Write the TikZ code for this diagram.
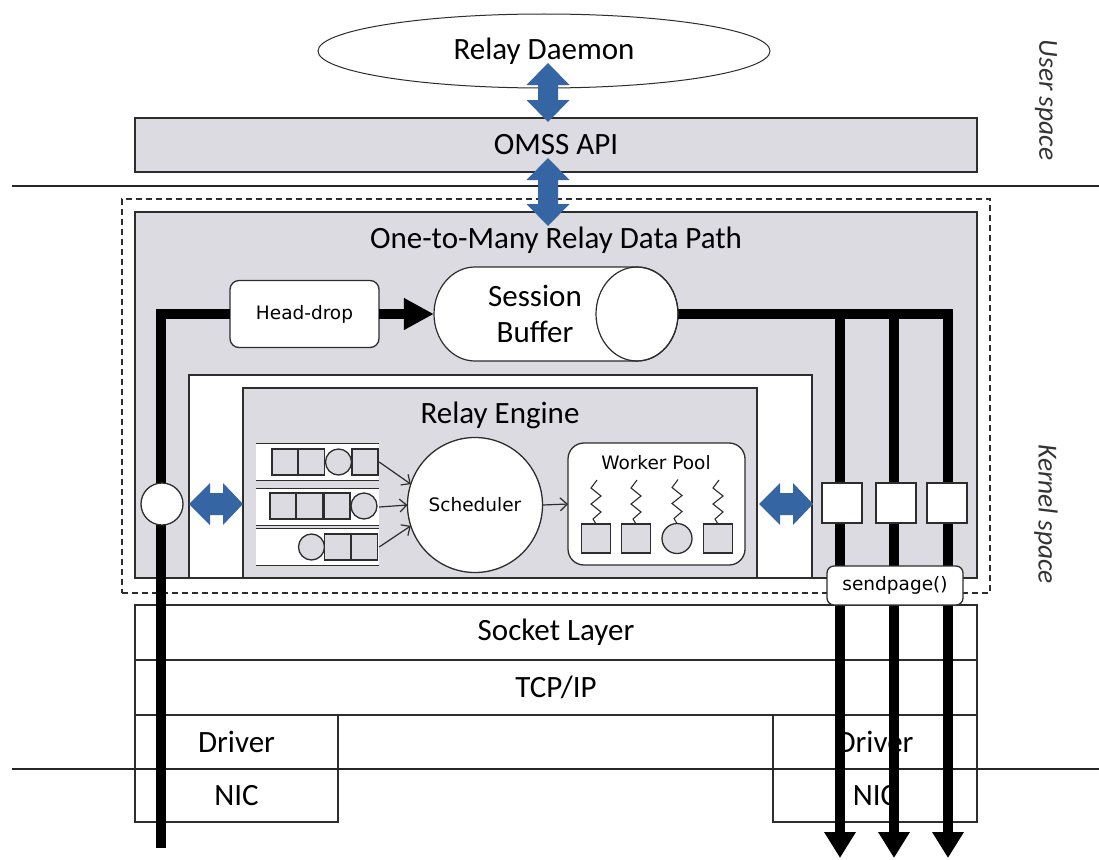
\documentclass[tikz,border=0pt]{standalone}
\usepackage{fontspec}
\setmainfont{Carlito}
\newfontfamily\uisans{DejaVu Sans}
\usetikzlibrary{arrows.meta,calc,shapes.geometric}

\definecolor{panelgray}{RGB}{221,219,226}
\definecolor{edgegray}{RGB}{45,45,45}
\definecolor{flowblue}{RGB}{54,101,163}

% vertical double-headed block arrow: #1 top tip, #2 bottom tip
\newcommand\vblockarrow[2]{%
  \fill[flowblue] (#1) -- ($(#1)+(21.5,22)$) -- ($(#1)+(10,22)$) -- ($(#2)+(10,-22)$)
    -- ($(#2)+(21.5,-22)$) -- (#2) -- ($(#2)+(-21.5,-22)$) -- ($(#2)+(-10,-22)$)
    -- ($(#1)+(-10,22)$) -- ($(#1)+(-21.5,22)$) -- cycle;}
% horizontal double-headed block arrow: #1 left tip, #2 right tip
\newcommand\hblockarrow[2]{%
  \fill[flowblue] (#1) -- ($(#1)+(21,-21)$) -- ($(#1)+(21,-11)$) -- ($(#2)+(-20,-11)$)
    -- ($(#2)+(-20,-21)$) -- (#2) -- ($(#2)+(-20,21)$) -- ($(#2)+(-20,11)$)
    -- ($(#1)+(21,11)$) -- ($(#1)+(21,21)$) -- cycle;}

\tikzset{
  box/.style={draw=edgegray, line width=1.3pt, inner sep=0pt, outer sep=0pt},
  graybox/.style={box, fill=panelgray},
  whitebox/.style={box, fill=white},
  bigtext/.style={font=\fontsize{31}{36}\selectfont},
  uitext/.style={font=\uisans\fontsize{18.5}{22}\selectfont},
  sidetext/.style={font=\itshape\fontsize{27.5}{30}\selectfont, text=black!80},
  edge/.style={draw=edgegray, line width=1.3pt},
  divider/.style={draw=black!85, line width=1.3pt},
  datapath/.style={line width=10pt, black},
  bigtip/.style={-{Triangle[length=30pt,width=30pt]}},
  downtip/.style={-{Triangle[length=26pt,width=30pt]}},
  thinarrow/.style={draw=edgegray, line width=1.2pt, -{Straight Barb[length=7pt,width=13pt]}},
  qsq/.style={box, line width=1.5pt, fill=panelgray, minimum size=26pt},
  qcirc/.style={box, line width=1.3pt, circle, fill=panelgray, minimum size=26pt},
  lane/.style={fill=white, inner sep=0pt, minimum width=123pt, minimum height=36pt},
  wsq/.style={box, fill=panelgray, minimum size=29pt},
  spring/.style={draw=edgegray, line width=1.1pt},
}

\begin{document}
\begin{tikzpicture}[x=1pt,y=-1pt]
\useasboundingbox (0,0) rectangle (1099,859);
\fill[white] (0,0) rectangle (1099,859);

% ---------- user space ----------
\node[box, line width=1pt, ellipse, fill=white, minimum width=452pt, minimum height=74pt, bigtext]
  (daemon) at (544,51) {Relay Daemon};
\node[graybox, minimum width=842pt, minimum height=54pt, bigtext] (api) at (556,145) {OMSS API};

\coordinate (ua) at (548,63);
\coordinate (ub) at (548,122);
\vblockarrow{ua}{ub}

\coordinate (kl) at (12,186);
\coordinate (kr) at (1099,186);
\draw[divider] (kl) -- (kr);

\node[sidetext, rotate=-90] (uspace) at (1046,100) {User space};
\node[sidetext, rotate=-90] (kspace) at (1046,514) {Kernel space};

% ---------- relay data path ----------
\node[box, fill=none, dash pattern=on 6pt off 4pt, minimum width=868pt, minimum height=394pt]
  (kmod) at (556,396) {};
\node[graybox, minimum width=842pt, minimum height=366pt] (dpath) at (556,395) {};
\node[bigtext] (dptitle) at (556,240) {One-to-Many Relay Data Path};
\node[whitebox, minimum width=623pt, minimum height=203pt] (inner) at (500.5,476.5) {};

\coordinate (va) at (548,158);
\coordinate (vb) at (548,226);
\vblockarrow{va}{vb}

% relay engine
\node[graybox, minimum width=514pt, minimum height=190pt] (engine) at (500,483) {};
\node[bigtext] (engtitle) at (500,415) {Relay Engine};

% input queues
\node[lane] (q1) at (317.5,462) {};
\node[lane] (q2) at (317.5,507) {};
\node[lane] (q3) at (317.5,547) {};
\foreach \q in {q1,q2,q3}{
  \draw[edge] (\q.north west) -- (\q.north east) (\q.south west) -- (\q.south east);
}
\node[qsq] at (285,462) {};
\node[qsq] at (311.5,462) {};
\node[qcirc] at (338.5,462) {};
\node[qsq] at (365,462) {};
\node[qsq] at (283,506) {};
\node[qsq] at (309.5,506) {};
\node[qsq] at (337,506) {};
\node[qcirc] at (364,506) {};
\node[qcirc] at (311.5,547) {};
\node[qsq] at (337.5,547) {};
\node[qsq] at (364.5,547) {};

% scheduler
\node[box, circle, fill=white, minimum size=135pt, uitext] (sched) at (475,505) {Scheduler};
\draw[thinarrow] (q1.east) -- (sched.162);
\draw[thinarrow] (q2.east) -- (sched.west);
\draw[thinarrow] (q3.east) -- (sched.198);

% worker pool
\node[box, fill=white, rounded corners=16pt, minimum width=177pt, minimum height=122pt] (pool) at (656.5,504) {};
\node[uitext] (pooltitle) at (656,463) {Worker Pool};
\draw[thinarrow] (sched.east) -- (pool.west);
\node[wsq] (w1) at (596,538.5) {};
\node[wsq] (w2) at (636,538.5) {};
\node[box, circle, fill=panelgray, minimum size=30pt] (w3) at (677,538.5) {};
\node[wsq] (w4) at (718,538.5) {};
\foreach \w in {w1,w2,w3,w4}{
  \draw[spring] (\w.north) -- ++(-3,-5) -- ++(8,-7) -- ++(-10,-8) -- ++(10,-8) -- ++(-10,-8) -- ++(6,-8);
}

% block arrows between engine and ports
\coordinate (la) at (189,504);
\coordinate (lb) at (243,504);
\hblockarrow{la}{lb}
\coordinate (ra) at (759,504);
\coordinate (rb) at (813,504);
\hblockarrow{ra}{rb}

% ---------- lower kernel layers ----------
\node[whitebox, minimum width=842pt, minimum height=55pt, bigtext] (socket) at (556,632.5) {Socket Layer};
\node[whitebox, minimum width=842pt, minimum height=55pt, bigtext] (tcp) at (556,687.5) {TCP/IP};
\node[whitebox, minimum width=203pt, minimum height=54pt, bigtext] (drvl) at (236.5,742) {Driver};
\node[whitebox, minimum width=203pt, minimum height=53pt, bigtext] (nicl) at (236.5,795.5) {NIC};
\node[whitebox, minimum width=204pt, minimum height=54pt, bigtext] (drvr) at (875,742) {Driver};
\node[whitebox, minimum width=204pt, minimum height=53pt, bigtext] (nicr) at (875,795.5) {NIC};

\coordinate (hl) at (12,769);
\coordinate (hr) at (1099,769);
\draw[divider] (hl) -- (hr);

% ---------- packet flow ----------
\node[box, fill=white, rounded corners=9pt, minimum width=149pt, minimum height=67pt, uitext]
  (headdrop) at (304.5,314) {Head-drop};
\coordinate (inflow) at (161,848);
\draw[datapath] (inflow) |- (headdrop.west);

\node[inner sep=0pt, minimum width=244pt, minimum height=94pt] (buffer) at (556,314) {};
\draw[datapath, bigtip] (headdrop.east) -- (buffer.west);

\coordinate (out1) at (840,858);
\coordinate (out2) at (894,858);
\coordinate (out3) at (948,858);
\coordinate (br1) at (840,314);
\coordinate (br2) at (894,314);
\draw[datapath, downtip] (buffer.east) -| (out3);
\draw[datapath, downtip] (br1) -- (out1);
\draw[datapath, downtip] (br2) -- (out2);

% session buffer drawn as a horizontal cylinder
\draw[edge, line width=1.2pt, fill=white] (475,267) -- (637,267)
  arc[start angle=-90, end angle=90, x radius=41, y radius=47] -- (475,361)
  arc[start angle=90, end angle=270, x radius=41, y radius=47] -- cycle;
\draw[edge, line width=1.2pt] (637,314) ellipse[x radius=41, y radius=47];
\node[bigtext, align=center] (buftext) at (535,314) {Session\\Buffer};

% ports on the data path
\node[box, circle, fill=white, minimum size=42pt] (inport) at (162,504) {};
\node[whitebox, minimum size=40pt] (op1) at (842,503) {};
\node[whitebox, minimum size=40pt] (op2) at (896,503) {};
\node[whitebox, minimum size=40pt] (op3) at (947,503) {};

\node[box, fill=white, rounded corners=7pt, minimum width=136pt, minimum height=39pt, uitext]
  (sendpage) at (895,585.5) {sendpage()};
\end{tikzpicture}
\end{document}
